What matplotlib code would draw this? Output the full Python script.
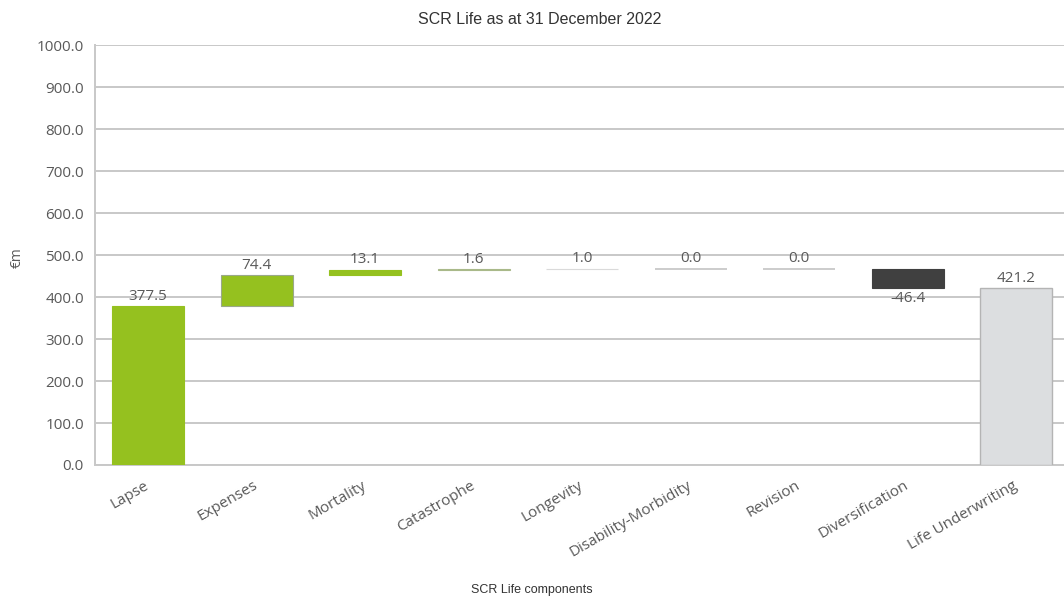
import matplotlib
matplotlib.use("Agg")
import matplotlib.pyplot as plt
import numpy as np

categories = ["Lapse", "Expenses", "Mortality", "Catastrophe", "Longevity",
              "Disability-Morbidity", "Revision", "Diversification", "Life Underwriting"]
values = [377.5, 74.4, 13.1, 1.6, 1.0, 0.0, 0.0, -46.4]
total = 421.2
bar_colors = ["#95C11F", "#95C11F", "#95C11F", "#A9B98A", "#DADADA",
              "#C4C4C4", "#C4C4C4", "#404040", "#DCDEE0"]
y_ticks = [0, 100, 200, 300, 400, 500, 600, 700, 800, 900, 1000]

fig = plt.figure(figsize=(10.64, 6.01), dpi=100)
ax = fig.add_axes([0.0893, 0.2263, 0.9107, 0.6987])

# waterfall geometry
bottoms, heights = [], []
running = 0.0
for v in values:
    if v >= 0:
        bottoms.append(running)
        heights.append(v)
    else:
        bottoms.append(running + v)
        heights.append(-v)
    running += v
bottoms.append(0.0)
heights.append(total)

x = np.arange(len(categories))
ax.set_axisbelow(True)
ax.yaxis.grid(True, color="#C8C8C8", linewidth=1.4)
for i in range(len(categories)):
    h = heights[i]
    if h == 0:
        ax.hlines(bottoms[i], x[i] - 0.33, x[i] + 0.33, color=bar_colors[i], linewidth=1.2, zorder=3)
        continue
    ec = bar_colors[i]
    lw = 0.8
    if i == len(categories) - 1:
        ec, lw = "#B4B4B4", 1.0
    elif i == 1:
        ec, lw = "#9AA88A", 0.8
    ax.bar(x[i], h, bottom=bottoms[i], width=0.66, color=bar_colors[i],
           edgecolor=ec, linewidth=lw, zorder=3)

label_vals = values + [total]
lbl_font = dict(family="Open Sans", fontsize=11, color="#595959")
for i, v in enumerate(label_vals):
    if v >= 0:
        ytop = bottoms[i] + heights[i]
        ax.text(x[i], ytop + 6, f"{v:.1f}", ha="center", va="bottom", **lbl_font)
    else:
        ax.text(x[i], bottoms[i] - 8, f"{v:.1f}", ha="center", va="top", **lbl_font)

ax.set_xlim(-0.49, 8.44)
ax.set_ylim(0, 1000)
ax.set_yticks(y_ticks)
ax.set_yticklabels([f"{t:.1f}" for t in y_ticks], **lbl_font)
ax.tick_params(axis="y", length=0, pad=8)
ax.set_xticks(x)
ax.set_xticklabels(categories, rotation=30, ha="right", va="center",
                   rotation_mode="anchor", **lbl_font)
ax.tick_params(axis="x", length=0, pad=14)

for s in ["top", "right"]:
    ax.spines[s].set_visible(False)
ax.spines["left"].set_color("#C8C8C8")
ax.spines["bottom"].set_color("#C8C8C8")
ax.spines["left"].set_linewidth(1.4)
ax.spines["bottom"].set_linewidth(1.4)

fig.text(0.507, 0.968, "SCR Life as at 31 December 2022", ha="center", va="center",
         family="Liberation Sans", fontsize=11.5, color="#333333")
fig.text(0.5, 0.018, "SCR Life components", ha="center", va="center",
         family="Liberation Sans", fontsize=9, color="#333333")
fig.text(0.016, 0.571, "€m", ha="center", va="center", rotation=90,
         family="Open Sans", fontsize=10, color="#595959")

fig.savefig("out.png", dpi=100)
